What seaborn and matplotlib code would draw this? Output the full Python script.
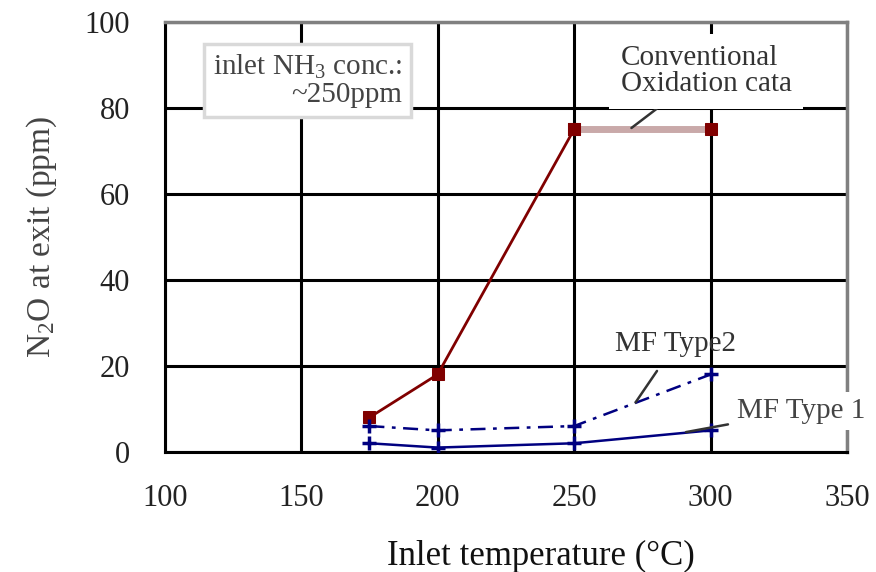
import matplotlib
matplotlib.use("Agg")
import matplotlib.pyplot as plt
import seaborn as sns

# values
temps = [175, 200, 250, 300]
conv_ppm = [8, 18, 75, 75]
mf2_ppm = [6, 5, 6, 18]
mf1_ppm = [2, 1, 2, 5]

x_ticks = [100, 150, 200, 250, 300, 350]
y_ticks = [0, 20, 40, 60, 80, 100]

sns.set_style("white")
plt.rcParams['font.family'] = ['Liberation Serif', 'DejaVu Serif']
plt.rcParams['mathtext.fontset'] = 'custom'
plt.rcParams['mathtext.rm'] = 'Liberation Serif'
plt.rcParams['mathtext.it'] = 'Liberation Serif:italic'

fig = plt.figure(figsize=(8.76, 5.72), dpi=100)
ax = fig.add_axes([0.188, 0.210, 0.779, 0.752])

dark_red = '#800000'
navy = '#000080'

# conventional oxidation catalyst
sns.lineplot(x=temps[:3], y=conv_ppm[:3], ax=ax, color=dark_red, lw=2,
             marker='s', markersize=9, markeredgecolor=dark_red, zorder=4)
sns.lineplot(x=temps[2:], y=conv_ppm[2:], ax=ax, color='#c9a9a9', lw=5,
             marker='s', markersize=9, markerfacecolor=dark_red,
             markeredgecolor=dark_red, zorder=4)

# MF type 2 (dash-dot) and type 1 (solid)
sns.lineplot(x=temps, y=mf2_ppm, ax=ax, color=navy, lw=1.8,
             linestyle=(0, (6, 3, 1.5, 3)), marker='+', markersize=10,
             markeredgewidth=2.5, markeredgecolor=navy, zorder=4)
sns.lineplot(x=temps, y=mf1_ppm, ax=ax, color=navy, lw=1.8,
             marker='+', markersize=10, markeredgewidth=2.5,
             markeredgecolor=navy, zorder=4)

ax.set_xlim(100, 350)
ax.set_ylim(0, 100)
ax.set_xticks(x_ticks)
ax.set_yticks(y_ticks)
ax.grid(True, color='black', lw=2.2)
ax.set_axisbelow(True)

for side in ['left', 'bottom']:
    ax.spines[side].set_color('black')
    ax.spines[side].set_linewidth(2.2)
for side in ['top', 'right']:
    ax.spines[side].set_color('#808080')
    ax.spines[side].set_linewidth(2.5)
# keep the top frame line above the white label box
ax.spines['top'].set_zorder(7)

ax.tick_params(axis='both', direction='out', length=7, width=2.2,
               color='black', labelsize=22, labelcolor='#222222')
ax.tick_params(axis='x', pad=16)
ax.tick_params(axis='y', pad=18)

ax.set_xlabel('Inlet temperature (°C)', fontsize=25, color='#111111')
ax.set_ylabel('N$_2$O at exit (ppm)', fontsize=24, color='#444444')
ax.xaxis.set_label_coords(0.551, -0.205)
ax.yaxis.set_label_coords(-0.155, 0.5)

ax.text(187, 86.3, 'inlet NH$_3$ conc.:\n~250ppm', fontsize=21,
        color='#444444', ha='right', va='center', multialignment='right',
        linespacing=1.05,
        bbox=dict(boxstyle='square,pad=0.3', fc='white', ec='#d9d9d9', lw=2.5),
        zorder=6)

ax.annotate('Conventional\nOxidation cata', xy=(271, 75.3), xytext=(267, 88.5),
            fontsize=21, color='#333333', ha='left', va='center',
            linespacing=1.0,
            bbox=dict(boxstyle='square,pad=0.4', fc='white', ec='none'),
            arrowprops=dict(arrowstyle='-', color='#333333', lw=1.8,
                            shrinkA=0, shrinkB=0),
            zorder=6)

ax.annotate('MF Type2', xy=(272.5, 11.5), xytext=(287, 25),
            fontsize=21, color='#333333', ha='center', va='center',
            arrowprops=dict(arrowstyle='-', color='#333333', lw=1.8,
                            shrinkA=9, shrinkB=0),
            zorder=6)

ax.annotate('MF Type 1', xy=(291, 4.6), xytext=(309.5, 9.5),
            fontsize=21, color='#444444', ha='left', va='center',
            bbox=dict(boxstyle='square,pad=0.2', fc='white', ec='none'),
            arrowprops=dict(arrowstyle='-', color='#333333', lw=1.8,
                            shrinkA=2, shrinkB=0),
            annotation_clip=False, zorder=6)

fig.savefig('out.png', dpi=100)
